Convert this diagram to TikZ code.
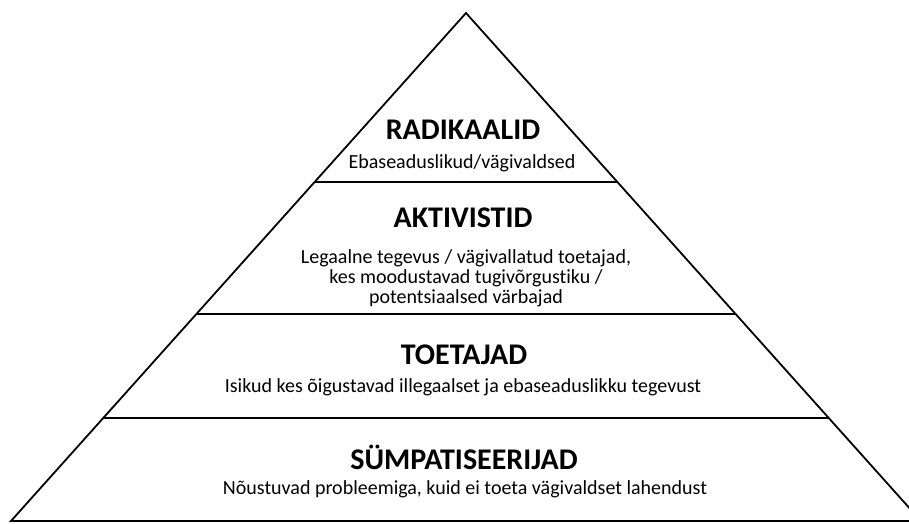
\documentclass[tikz,border=0pt]{standalone}
\usepackage{fontspec}
\setmainfont{Carlito}[Ligatures=CommonOff]
\usetikzlibrary{positioning,calc}

\begin{document}
\begin{tikzpicture}[x=1pt,y=-1pt,
  every node/.style = {align=center, inner sep=0pt},
  tiername/.style = {font=\bfseries\fontsize{30}{34}\selectfont},
  tierdesc/.style = {font=\fontsize{20}{20}\selectfont},
  edge/.style = {draw, line width=1.8pt, line join=miter}
  ]
  \useasboundingbox (0,0) rectangle (909,523);
  \clip (0,0) rectangle (909,523);
  % corners of the pyramid
  \coordinate (apex) at (466,13);
  \coordinate (bl) at (11,521);
  \coordinate (br) at (921,521);
  \draw[edge] (bl) -- (apex) -- (br) -- cycle;
  % tier borders
  \coordinate (l1) at ($(apex)!0.3327!(bl)$);
  \coordinate (r1) at ($(apex)!0.3327!(br)$);
  \coordinate (l2) at ($(apex)!0.5925!(bl)$);
  \coordinate (r2) at ($(apex)!0.5925!(br)$);
  \coordinate (l3) at ($(apex)!0.7972!(bl)$);
  \coordinate (r3) at ($(apex)!0.7972!(br)$);
  \draw[edge] (l1) -- (r1);
  \draw[edge] (l2) -- (r2);
  \draw[edge] (l3) -- (r3);
  % labels
  \node[tiername] (radikaalid) at (463,130) {RADIKAALID};
  \node[tierdesc] (radikaaliddesc) at (462,163) {Ebaseaduslikud/vägivaldsed};
  \node[tiername] (aktivistid) at (463,218) {AKTIVISTID};
  \node[tierdesc] (aktivistiddesc) at (466,278) {Legaalne tegevus / vägivallatud toetajad,\\
    kes moodustavad tugivõrgustiku /\\ potentsiaalsed värbajad};
  \node[tiername] (toetajad) at (464,355) {TOETAJAD};
  \node[tierdesc] (toetajaddesc) at (463,387) {Isikud kes õigustavad illegaalset ja ebaseaduslikku tegevust};
  \node[tiername] (sympatiseerijad) at (464,457) {SÜMPATISEERIJAD};
  \node[tierdesc] (sympatiseerijaddesc) at (465,489) {Nõustuvad probleemiga, kuid ei toeta vägivaldset lahendust};
\end{tikzpicture}
\end{document}
